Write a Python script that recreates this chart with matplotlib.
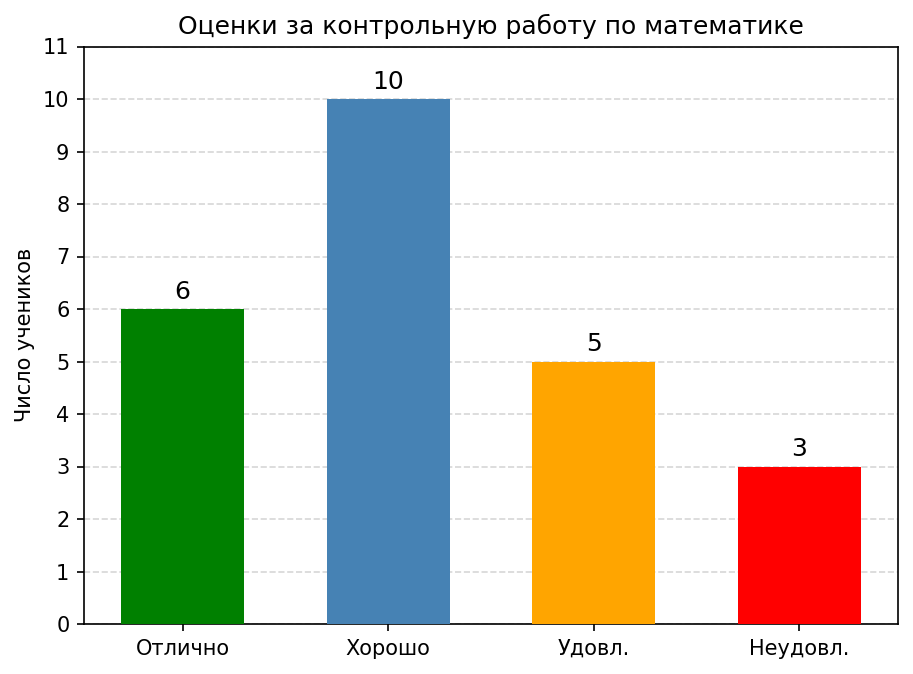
import matplotlib
matplotlib.use("Agg")
import matplotlib.pyplot as plt

categories = ["Отлично", "Хорошо", "Удовл.", "Неудовл."]
values = [6, 10, 5, 3]
colors = ["green", "steelblue", "orange", "red"]

fig, ax = plt.subplots(figsize=(913/150, 674/150), dpi=150)
bars = ax.bar(categories, values, color=colors, width=0.6, zorder=3)
for b, v in zip(bars, values):
    ax.text(b.get_x() + b.get_width()/2, v + 0.1, str(v), ha="center", va="bottom", fontsize=12)
ax.set_ylim(0, 11)
ax.set_yticks(range(0, 12))
ax.yaxis.grid(True, linestyle="--", color="lightgray", alpha=0.9, zorder=0)
ax.set_axisbelow(True)
ax.set_ylabel("Число учеников")
ax.set_title("Оценки за контрольную работу по математике", fontsize=12)
fig.subplots_adjust(left=84/913, right=898/913, top=1-46.5/674, bottom=1-624/674)
fig.savefig("out.png", dpi=150)
